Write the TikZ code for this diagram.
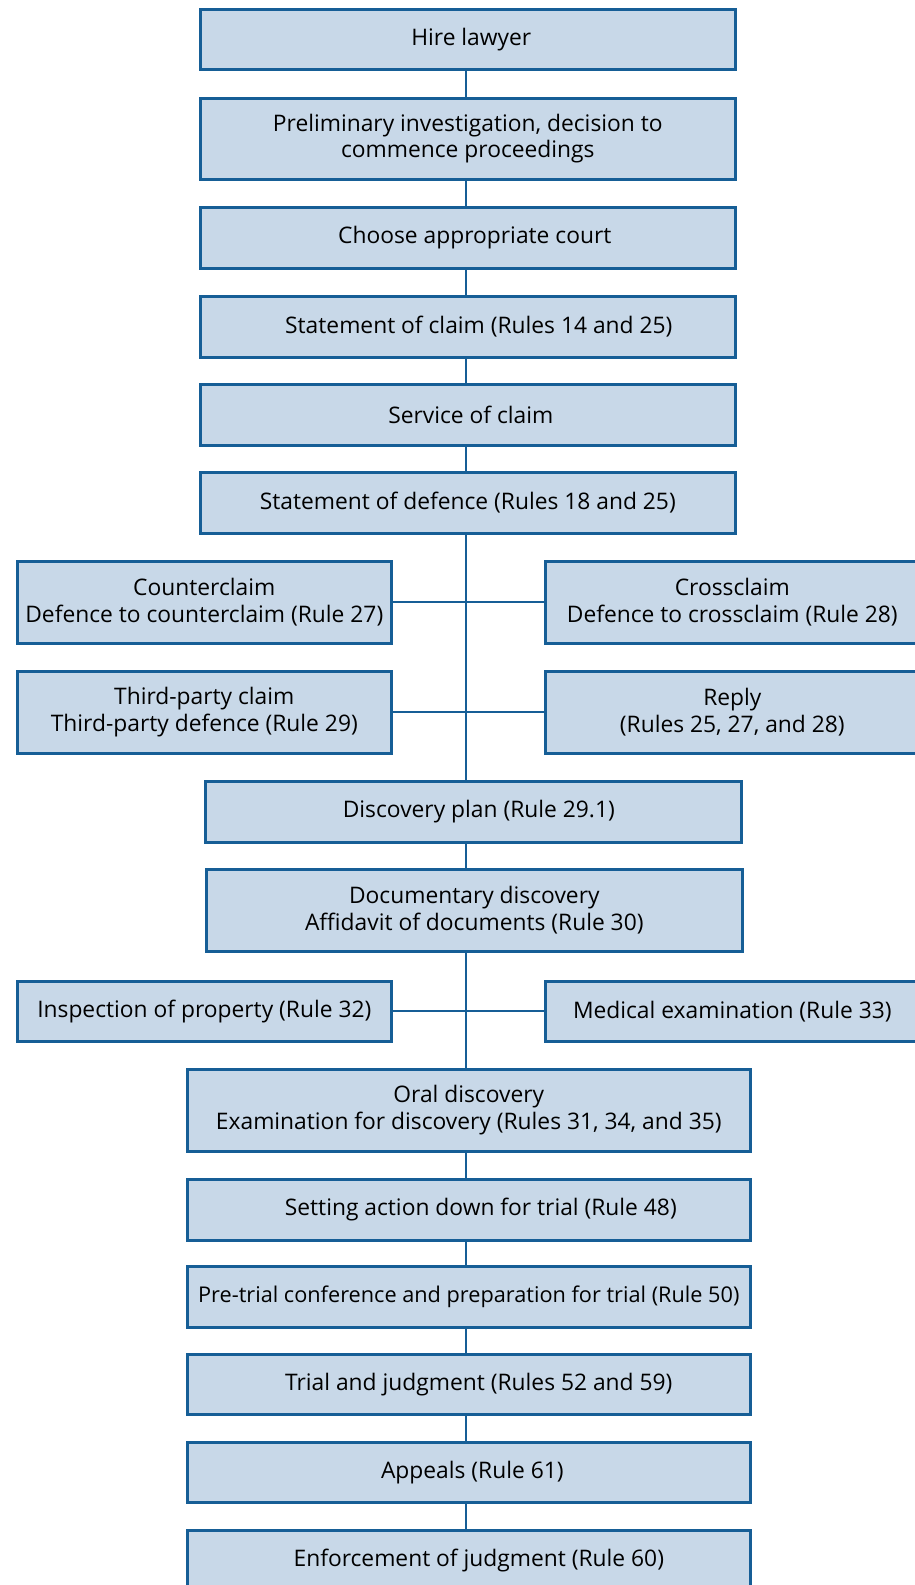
\documentclass[tikz,border=0pt]{standalone}
\usepackage{fontspec}
\setmainfont{Open Sans}
\definecolor{boxfill}{RGB}{200,216,232}
\definecolor{boxline}{RGB}{22,94,150}
\newcommand{\sh}[1]{\kern#1pt\relax}
\begin{document}
\begin{tikzpicture}[x=1pt,y=-1pt,
  box/.style={draw=boxline, fill=boxfill, line width=2.6pt, anchor=north west,
    align=center, inner sep=0pt, font=\fontsize{22.8}{26.5}\selectfont, text=black},
  link/.style={draw=boxline, line width=2.2pt}]
\clip (0,0) rectangle (915,1585);
\fill[white] (0,0) rectangle (915,1585);
% main column
\node[box, minimum width=535pt, minimum height=60pt] (hire) at (199,8) {\sh{7}Hire lawyer};
\node[box, minimum width=535pt, minimum height=81pt] (prelim) at (199,97) {Preliminary investigation, decision to\\commence proceedings};
\node[box, minimum width=535pt, minimum height=61pt] (court) at (199,206) {\sh{14}Choose appropriate court};
\node[box, minimum width=535pt, minimum height=61pt] (claim) at (199,295) {\sh{22}Statement of claim (Rules 14 and 25)};
\node[box, minimum width=535pt, minimum height=61pt] (service) at (199,383) {\sh{6}Service of claim};
\node[box, minimum width=535pt, minimum height=61pt] (defence) at (199,471) {Statement of defence (Rules 18 and 25)};
% side boxes row 1
\node[box, minimum width=374pt, minimum height=82pt] (counter) at (16,560) {Counterclaim\\Defence to counterclaim (Rule 27)};
\node[box, minimum width=374pt, minimum height=82pt] (cross) at (544,560) {Crossclaim\\Defence to crossclaim (Rule 28)};
% side boxes row 2
\node[box, minimum width=374pt, minimum height=82pt] (third) at (16,670) {Third-party claim\\Third-party defence (Rule 29)};
\node[box, minimum width=374pt, minimum height=82pt] (reply) at (544,670) {Reply\\(Rules 25, 27, and 28)};
% discovery
\node[box, minimum width=536pt, minimum height=61pt] (plan) at (204,780) {\sh{11}Discovery plan (Rule 29.1)};
\node[box, minimum width=536pt, minimum height=82pt] (docs) at (205,868) {Documentary discovery\\Affidavit of documents (Rule 30)};
\node[box, minimum width=374pt, minimum height=60pt] (insp) at (16,980) {Inspection of property (Rule 32)};
\node[box, minimum width=374pt, minimum height=60pt] (med) at (544,980) {Medical examination (Rule 33)};
\node[box, minimum width=563pt, minimum height=82pt] (oral) at (186,1068) {Oral discovery\\Examination for discovery (Rules 31, 34, and 35)};
\node[box, minimum width=563pt, minimum height=61pt] (setting) at (186,1178) {\sh{24}Setting action down for trial (Rule 48)};
\node[box, minimum width=563pt, minimum height=61pt, font=\fontsize{21.7}{26.5}\selectfont] (pretrial) at (186,1265) {Pre-trial conference and preparation for trial (Rule 50)};
\node[box, minimum width=563pt, minimum height=60pt] (trial) at (186,1353) {\sh{20}Trial and judgment (Rules 52 and 59)};
\node[box, minimum width=563pt, minimum height=60pt] (appeals) at (186,1441) {\sh{7}Appeals (Rule 61)};
\node[box, minimum width=563pt, minimum height=61pt] (enforce) at (186,1529) {\sh{20}Enforcement of judgment (Rule 60)};
% connectors
\coordinate (tx) at (466,0);
\draw[link] (hire.south -| tx) -- (prelim.north -| tx);
\draw[link] (prelim.south -| tx) -- (court.north -| tx);
\draw[link] (court.south -| tx) -- (claim.north -| tx);
\draw[link] (claim.south -| tx) -- (service.north -| tx);
\draw[link] (service.south -| tx) -- (defence.north -| tx);
\draw[link] (defence.south -| tx) -- (plan.north -| tx);
\draw[link] (counter.east) -- (cross.west);
\draw[link] (third.east) -- (reply.west);
\draw[link] (plan.south -| tx) -- (docs.north -| tx);
\draw[link] (docs.south -| tx) -- (oral.north -| tx);
\draw[link] (insp.east) -- (med.west);
\draw[link] (oral.south -| tx) -- (setting.north -| tx);
\draw[link] (setting.south -| tx) -- (pretrial.north -| tx);
\draw[link] (pretrial.south -| tx) -- (trial.north -| tx);
\draw[link] (trial.south -| tx) -- (appeals.north -| tx);
\draw[link] (appeals.south -| tx) -- (enforce.north -| tx);
\end{tikzpicture}
\end{document}
